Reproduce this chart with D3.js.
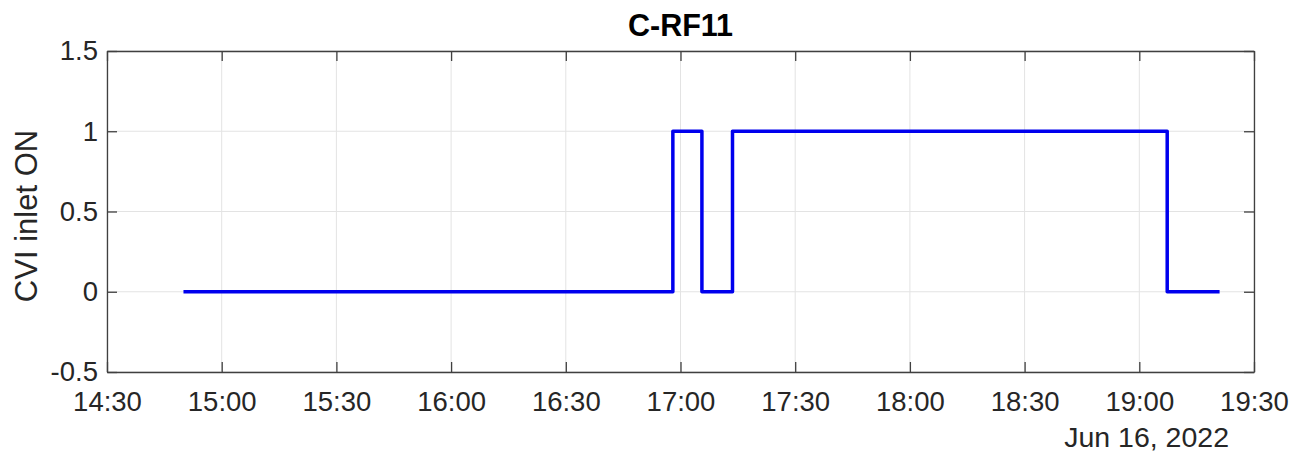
<!DOCTYPE html>
<html><head><meta charset="utf-8">
<script src="https://cdn.jsdelivr.net/npm/d3@7"></script>
<style>body{margin:0;background:#fff}svg{display:block;font-family:"Liberation Sans",Arial,sans-serif}</style>
</head><body><svg id="c" width="1304" height="454"></svg>
<script>
const title = "C-RF11";
const yLabel = "CVI inlet ON";
const dateLabel = "Jun 16, 2022";
const times = ["14:50","16:58","16:58","17:05.6","17:05.6","17:13.6","17:13.6","19:07.3","19:07.3","19:21"];
const values = [0,0,1,1,0,0,1,1,0,0];
const xTickLabels = ["14:30","15:00","15:30","16:00","16:30","17:00","17:30","18:00","18:30","19:00","19:30"];
const yTicks = [-0.5,0,0.5,1,1.5];
const xDomain = ["14:30","19:30"];
const yDomain = [-0.5,1.5];

function toDate(s){const [h,m]=s.split(":");return new Date(2022,5,16,+h,0,0,0).getTime()+parseFloat(m)*60000;}
const svg = d3.select("#c");
const L=107,R=1254,T=51,B=372;
const x = d3.scaleTime().domain(xDomain.map(toDate)).range([L,R]);
const y = d3.scaleLinear().domain(yDomain).range([B,T]);
const xt = xTickLabels.map(toDate);
const grid = svg.append("g");
grid.selectAll("line.vx").data(xt).join("line").attr("x1",d=>x(d)).attr("x2",d=>x(d)).attr("y1",T).attr("y2",B).attr("stroke","#e3e3e3").attr("stroke-width",1);
grid.selectAll("line.hy").data(yTicks).join("line").attr("y1",d=>y(d)).attr("y2",d=>y(d)).attr("x1",L).attr("x2",R).attr("stroke","#e3e3e3").attr("stroke-width",1);

const pts = times.map((t,i)=>[toDate(t),values[i]]);
svg.append("path").datum(pts).attr("fill","none").attr("stroke","#0000ee").attr("stroke-width",3.5).attr("stroke-linejoin","round")
  .attr("d",d3.line().x(d=>x(d[0])).y(d=>y(d[1])));

const fmt = d3.timeFormat("%H:%M");
const ax = (g)=>g.call(s=>s.select(".domain").attr("stroke","#404040").attr("stroke-width",1.3))
  .call(s=>s.selectAll(".tick line").attr("stroke","#404040").attr("stroke-width",1.3))
  .call(s=>s.selectAll(".tick text").attr("fill","#262626").attr("font-size","27.5px"));
svg.append("g").attr("transform",`translate(0,${B})`).call(d3.axisBottom(x).tickValues(xt).tickFormat(fmt).tickSizeInner(-10).tickSizeOuter(0).tickPadding(0)).call(ax).selectAll(".tick text").attr("dy",null).attr("y",39);
svg.append("g").attr("transform",`translate(0,${T})`).call(d3.axisTop(x).tickValues(xt).tickFormat("").tickSizeInner(-10).tickSizeOuter(0)).call(ax);
svg.append("g").attr("transform",`translate(${L},0)`).call(d3.axisLeft(y).tickValues(yTicks).tickFormat(d3.format("")).tickSizeInner(-10).tickSizeOuter(0).tickPadding(9)).call(ax);
svg.append("g").attr("transform",`translate(${R},0)`).call(d3.axisRight(y).tickValues(yTicks).tickFormat("").tickSizeInner(-10).tickSizeOuter(0)).call(ax);
svg.selectAll(".tick text").text(function(){return this.textContent.replace("\u2212","-");});

svg.append("text").attr("x",(L+R)/2).attr("y",36).attr("text-anchor","middle").attr("font-size","30.5px").attr("font-weight","bold").attr("fill","#000").text(title);
svg.append("text").attr("transform",`translate(37,216) rotate(-90)`).attr("text-anchor","middle").attr("font-size","31px").attr("fill","#262626").text(yLabel);
svg.append("text").attr("x",1229).attr("y",447).attr("text-anchor","end").attr("font-size","28.5px").attr("fill","#262626").text(dateLabel);
</script></body></html>
